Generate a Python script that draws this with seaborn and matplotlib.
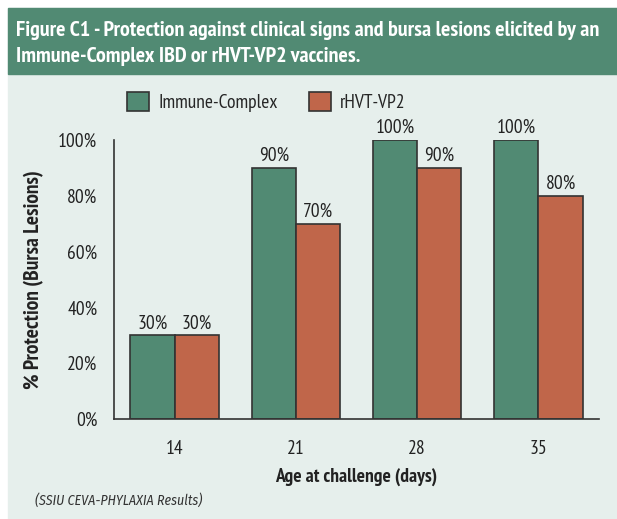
import matplotlib
matplotlib.use("Agg")
import matplotlib.pyplot as plt
import matplotlib.patches as mpatches
import pandas as pd
import seaborn as sns
from matplotlib.ticker import FixedLocator

ages = ["14", "21", "28", "35"]
immune_complex = [30, 90, 100, 100]
rhvt_vp2 = [30, 70, 90, 80]
series_names = ["Immune-Complex", "rHVT-VP2"]
y_ticks = [0, 20, 40, 60, 80, 100]
y_tick_labels = ["0%", "20%", "40%", "60%", "80%", "100%"]

df = pd.DataFrame({
    "age": ages * 2,
    "value": immune_complex + rhvt_vp2,
    "vaccine": [series_names[0]] * 4 + [series_names[1]] * 4,
})

GREEN = "#518a73"
ORANGE = "#c0664a"
BG = "#e6efec"
FONT = ["PT Sans Narrow", "Roboto Condensed", "DejaVu Sans"]
ITALIC_FONT = ["Fira Sans Condensed", "Roboto Condensed", "DejaVu Sans"]

sns.set_theme(style="white")
plt.rcParams["font.family"] = FONT

W, H = 617, 519
fig = plt.figure(figsize=(W / 100, H / 100), dpi=100, facecolor="white")

# panel background and title band
fig.patches.append(mpatches.Rectangle((8 / W, 0), 1 - 8 / W, 1 - 8 / H,
                                      transform=fig.transFigure, color=BG, zorder=-2))
fig.patches.append(mpatches.Rectangle((8 / W, 1 - 74 / H), 1 - 8 / W, 66 / H,
                                      transform=fig.transFigure, color=GREEN, zorder=-1))
fig.text(16 / W, 1 - 30 / H, "Figure C1 - Protection against clinical signs and bursa lesions elicited by an",
         color="white", fontsize=15.8, fontweight="bold", va="center", ha="left")
fig.text(16 / W, 1 - 56 / H, "Immune-Complex IBD or rHVT-VP2 vaccines.",
         color="white", fontsize=15.8, fontweight="bold", va="center", ha="left")

ax = fig.add_axes([114 / W, 1 - 419 / H, 485 / W, 279 / H])
ax.set_facecolor("none")
sns.barplot(data=df, x="age", y="value", hue="vaccine", order=ages,
            hue_order=series_names, palette=[GREEN, ORANGE], width=0.73,
            edgecolor="#333333", linewidth=1.2, saturation=1, ax=ax, legend=False)

for cont in ax.containers:
    ax.bar_label(cont, labels=[f"{int(v)}%" for v in cont.datavalues],
                 padding=2, fontsize=14, color="#222222")

ax.set_xlim(-0.5, 3.5)
ax.set_ylim(0, 100)
ax.set_yticks(y_ticks)
ax.set_yticklabels(y_tick_labels, fontsize=14, color="#222222")
ax.xaxis.set_minor_locator(FixedLocator([-0.5, 0.5, 1.5, 2.5, 3.5]))
ax.tick_params(axis="x", which="major", length=0, labelsize=14, labelcolor="#222222", pad=15)
ax.tick_params(axis="x", which="minor", length=8, width=1.2, color="#333333", direction="out")
ax.tick_params(axis="y", length=8, width=1.2, color="#333333", direction="out", pad=4)
for s in ["top", "right"]:
    ax.spines[s].set_visible(False)
for s in ["left", "bottom"]:
    ax.spines[s].set_color("#333333")
    ax.spines[s].set_linewidth(1.2)

ax.set_xlabel("Age at challenge (days)", fontsize=14, fontweight="bold", color="#222222", labelpad=7)
ax.set_ylabel("% Protection (Bursa Lesions)", fontsize=15.5, fontweight="bold", color="#222222", labelpad=10)

handles = [mpatches.Patch(facecolor=GREEN, edgecolor="#333333", linewidth=1.2),
           mpatches.Patch(facecolor=ORANGE, edgecolor="#333333", linewidth=1.2)]
fig.legend(handles, series_names, loc="center left", bbox_to_anchor=(127 / W, 1 - 102 / H),
           ncol=2, frameon=False, fontsize=14, handlelength=1.15, handleheight=1.15,
           columnspacing=1.6, handletextpad=0.45, borderpad=0, borderaxespad=0)

fig.text(35 / W, 1 - 500 / H, "(SSIU CEVA-PHYLAXIA Results)", fontsize=10, style="italic",
         family=ITALIC_FONT, color="#333333", va="center", ha="left")

fig.savefig("out.png", dpi=100, facecolor="white")
